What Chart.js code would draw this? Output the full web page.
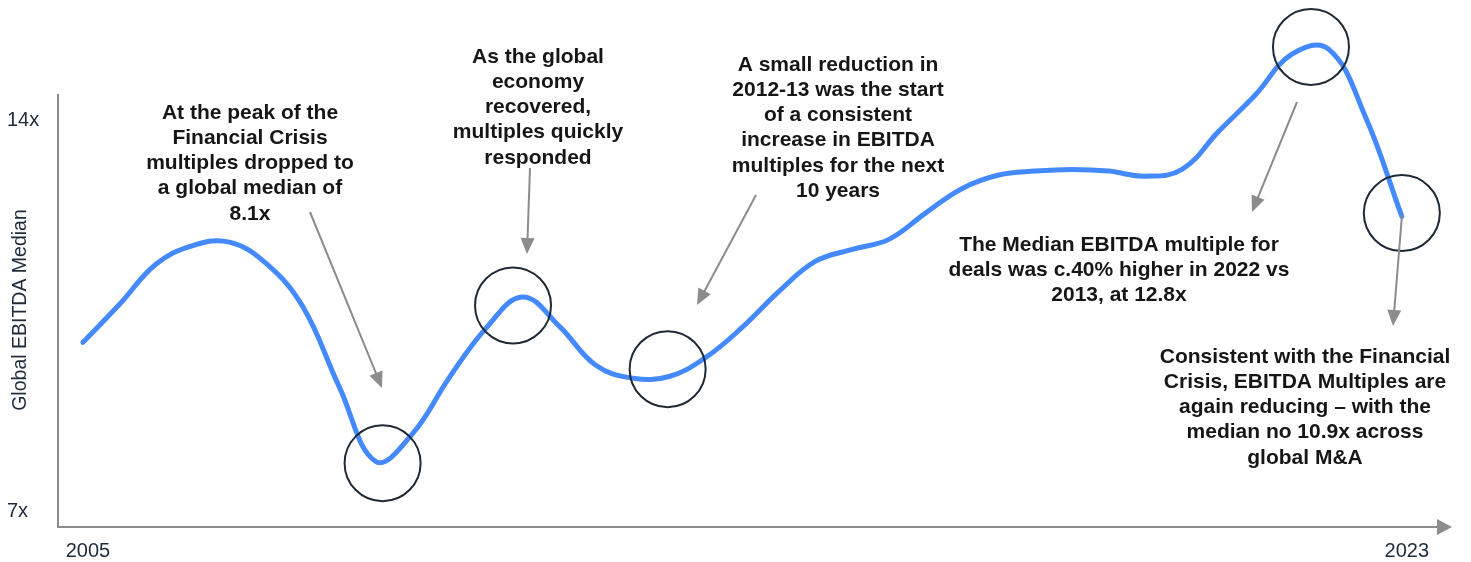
<!DOCTYPE html>
<html>
<head>
<meta charset="utf-8">
<script src="https://cdn.jsdelivr.net/npm/chart.js@4.4.1/dist/chart.umd.min.js"></script>
<style>
  html, body { margin: 0; padding: 0; background: #fff; }
</style>
</head>
<body>
<canvas id="chart" width="1471" height="562"></canvas>
<script>
// half-yearly readings of the global median EBITDA multiple
const years = [2005, 2005.5, 2006, 2006.5, 2007, 2007.5, 2008, 2008.5, 2009, 2009.5,
               2010, 2010.5, 2011, 2011.5, 2012, 2012.5, 2013, 2013.5, 2014, 2014.5,
               2015, 2015.5, 2016, 2016.5, 2017, 2017.5, 2018, 2018.5, 2019, 2019.5,
               2020, 2020.5, 2021, 2021.5, 2022, 2022.5, 2023];
const multiples = [10.03, 10.71, 11.43, 11.76, 11.82, 11.44, 10.67, 9.23, 7.90, 8.40,
                   9.40, 10.28, 10.84, 10.32, 9.62, 9.39, 9.42, 9.76, 10.30, 10.94,
                   11.48, 11.69, 11.87, 12.34, 12.78, 13.02, 13.09, 13.12, 13.09, 13.00,
                   13.12, 13.80, 14.45, 15.18, 15.27, 14.07, 12.28];
const xTicks = [2005, 2023];
const yTicks = [7, 14];

// circled points: [year, multiple]
const highlights = [[2009.09, 7.87], [2010.87, 10.69], [2012.98, 9.55], [2021.76, 15.31], [2023, 12.34]];

// callouts
const notes = [
    { x: 250, y: 113, lines: ['At the peak of the', 'Financial Crisis', 'multiples dropped to', 'a global median of', '8.1x'] },
    { x: 538, y: 57, lines: ['As the global', 'economy', 'recovered,', 'multiples quickly', 'responded'] },
    { x: 838, y: 65, lines: ['A small reduction in', '2012-13 was the start', 'of a consistent', 'increase in EBITDA', 'multiples for the next', '10 years'] },
    { x: 1119, y: 245, lines: ['The Median EBITDA multiple for', 'deals was c.40% higher in 2022 vs', '2013, at 12.8x'] },
    { x: 1305, y: 357, lines: ['Consistent with the Financial', 'Crisis, EBITDA Multiples are', 'again reducing \u2013 with the', 'median no 10.9x across', 'global M&A'] }
];
const arrows = [
    [310, 212, 382, 388],
    [530, 168, 527, 254],
    [756, 195, 697, 305],
    [1297, 102, 1252, 212],
    [1402, 215, 1393, 326]
];

const axisColor = '#8c8c8c';
const labelColor = '#1d2b3a';

function arrowHead(ctx, x1, y1, x2, y2, len, half) {
    const a = Math.atan2(y2 - y1, x2 - x1);
    ctx.beginPath();
    ctx.moveTo(x2, y2);
    ctx.lineTo(x2 - len * Math.cos(a) + half * Math.sin(a), y2 - len * Math.sin(a) - half * Math.cos(a));
    ctx.lineTo(x2 - len * Math.cos(a) - half * Math.sin(a), y2 - len * Math.sin(a) + half * Math.cos(a));
    ctx.closePath();
    ctx.fill();
}

const annotate = {
    id: 'annotate',
    afterDraw(chart) {
        const { ctx, chartArea, scales: { x, y } } = chart;
        ctx.save();

        // x axis arrow
        ctx.fillStyle = axisColor;
        arrowHead(ctx, chartArea.right - 10, chartArea.bottom, chartArea.right + 15, chartArea.bottom, 15, 8);

        // circles
        ctx.strokeStyle = '#1f2a36';
        ctx.lineWidth = 2;
        highlights.forEach(([yr, v]) => {
            ctx.beginPath();
            ctx.arc(x.getPixelForValue(yr), y.getPixelForValue(v), 38, 0, Math.PI * 2);
            ctx.stroke();
        });

        // arrows
        ctx.strokeStyle = axisColor;
        ctx.fillStyle = axisColor;
        ctx.lineWidth = 2;
        arrows.forEach(([x1, y1, x2, y2]) => {
            const a = Math.atan2(y2 - y1, x2 - x1);
            ctx.beginPath();
            ctx.moveTo(x1, y1);
            ctx.lineTo(x2 - 12 * Math.cos(a), y2 - 12 * Math.sin(a));
            ctx.stroke();
            arrowHead(ctx, x1, y1, x2, y2, 16, 7);
        });

        // callout text
        ctx.fillStyle = '#161616';
        ctx.font = 'bold 21px "Liberation Sans"';
        ctx.textAlign = 'center';
        ctx.textBaseline = 'middle';
        notes.forEach(n => {
            n.lines.forEach((line, i) => ctx.fillText(line, n.x, n.y + i * 25.2));
        });

        // y axis title
        ctx.translate(21, 310);
        ctx.rotate(-Math.PI / 2);
        ctx.fillStyle = labelColor;
        ctx.font = '19.5px "Liberation Sans"';
        ctx.fillText('Global EBITDA Median', 0, 0);
        ctx.restore();
    }
};

new Chart(document.getElementById('chart'), {
    type: 'line',
    data: {
        datasets: [{
            data: years.map((yr, i) => ({ x: yr, y: multiples[i] })),
            borderColor: '#4589ff',
            borderWidth: 5,
            borderCapStyle: 'round',
            borderJoinStyle: 'round',
            tension: 0.4,
            pointRadius: 0,
            fill: false,
            clip: false
        }]
    },
    options: {
        responsive: false,
        animation: false,
        layout: { padding: { top: 95, right: 34, bottom: 0, left: 7 } },
        plugins: { legend: { display: false }, tooltip: { enabled: false } },
        scales: {
            x: {
                type: 'linear',
                min: 2004.66,
                max: 2023.48,
                grid: { display: false, drawTicks: false },
                border: { display: true, color: axisColor, width: 2 },
                ticks: {
                    padding: 12,
                    labelOffset: 5,
                    color: labelColor,
                    font: { family: 'Liberation Sans', size: 20 },
                    maxRotation: 0,
                    autoSkip: false,
                    callback: v => String(v)
                },
                afterBuildTicks: s => { s.ticks = xTicks.map(v => ({ value: v })); },
                afterFit: s => { s.height = 35; }
            },
            y: {
                min: 6.73,
                max: 14.45,
                grid: { display: false, drawTicks: false },
                border: { display: true, color: axisColor, width: 2 },
                ticks: {
                    crossAlign: 'far',
                    color: labelColor,
                    font: { family: 'Liberation Sans', size: 20 },
                    callback: v => v + 'x'
                },
                afterBuildTicks: s => { s.ticks = yTicks.map(v => ({ value: v })); },
                afterFit: s => { s.width = 51; }
            }
        }
    },
    plugins: [annotate]
});
</script>
</body>
</html>
